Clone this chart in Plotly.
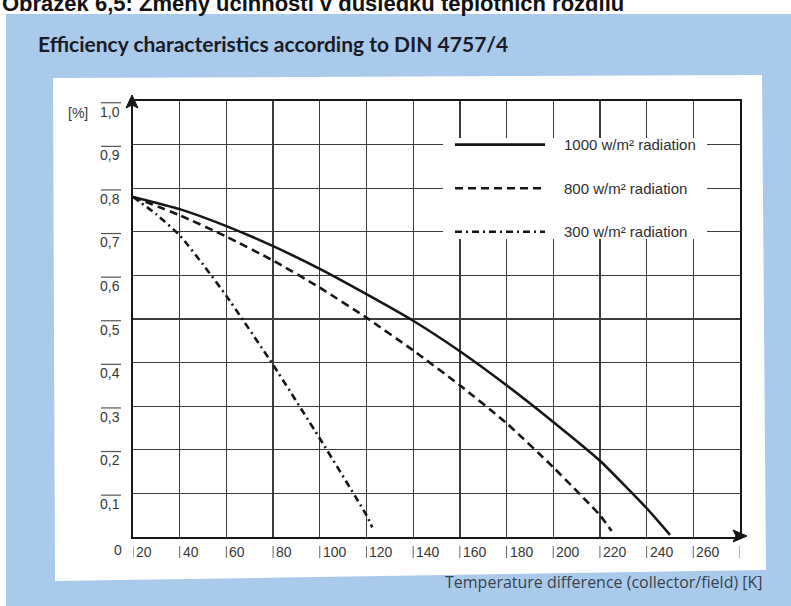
import plotly.graph_objects as go

# ---------------- data ----------------
x_1000 = [20, 40, 60, 80, 100, 120, 140, 160, 180, 200, 220, 240, 250]
y_1000 = [0.78, 0.752, 0.713, 0.667, 0.615, 0.557, 0.496, 0.426, 0.348, 0.264, 0.175, 0.066, 0.005]

x_800 = [20, 40, 60, 80, 100, 120, 140, 160, 180, 200, 220, 225]
y_800 = [0.78, 0.738, 0.689, 0.634, 0.572, 0.503, 0.428, 0.348, 0.261, 0.16, 0.05, 0.014]

x_300 = [20, 30, 40, 50, 60, 80, 100, 120, 122.5]
y_300 = [0.78, 0.74, 0.692, 0.625, 0.553, 0.395, 0.226, 0.05, 0.022]

series_names = ["1000 w/m² radiation", "800 w/m² radiation", "300 w/m² radiation"]
series_dash = ["solid", "8px,5px", "7px,4px,2px,4px"]

x_ticks = [20, 40, 60, 80, 100, 120, 140, 160, 180, 200, 220, 240, 260, 280]
x_tick_text = ["20", "40", "60", "80", "100", "120", "140", "160", "180", "200", "220", "240", "260", ""]
y_ticks = [1.0, 0.9, 0.8, 0.7, 0.6, 0.5, 0.4, 0.3, 0.2, 0.1, 0.0]
y_tick_text = ["1,0", "0,9", "0,8", "0,7", "0,6", "0,5", "0,4", "0,3", "0,2", "0,1", "0"]

chart_title = "Efficiency characteristics according to DIN 4757/4"
top_caption = "Obrázek 6,5: Změny účinnosti v důsledku teplotních rozdílů"
x_title = "Temperature difference (collector/field) [K]"
y_unit = "[%]"

# ---------------- layout geometry ----------------
W, H = 791, 606
L, R, T, B = 133, 51, 101, 69
PW, PH = W - L - R, H - T - B


def px(xp):
    return (xp - L) / PW


def py(yp):
    return (H - B - yp) / PH


INK = "#161616"
GRID = "#3c3c3c"
TXT = "#383838"
BLUE = "#a9caeb"
NUM_FONT = "Liberation Sans, Arial, sans-serif"

fig = go.Figure()
for xs, ys, name, dash in zip([x_1000, x_800, x_300], [y_1000, y_800, y_300],
                              series_names, series_dash):
    fig.add_trace(go.Scatter(
        x=xs, y=ys, mode="lines", name=name, showlegend=False,
        line=dict(color=INK, width=2.6, dash=dash, shape="spline", smoothing=0.5),
        hoverinfo="skip"))

shapes = []
# blue background
shapes.append(dict(type="rect", xref="paper", yref="paper", layer="below",
                   x0=px(6), x1=px(800), y0=py(14), y1=py(620),
                   fillcolor=BLUE, line=dict(width=0)))
# white (slightly skewed) panel
pts = [(53, 78), (762, 75), (766, 570), (55, 581)]
path = "M " + " L ".join(f"{px(a):.5f},{py(b):.5f}" for a, b in pts) + " Z"
shapes.append(dict(type="path", xref="paper", yref="paper", layer="below",
                   path=path, fillcolor="white", line=dict(width=0)))

# white legend box over gridlines
shapes.append(dict(type="rect", xref="paper", yref="paper", layer="above",
                   x0=px(443), x1=px(707), y0=py(239), y1=py(138),
                   fillcolor="white", line=dict(width=0)))
legend_rows = [0.9, 0.8, 0.7]
for yv, dash in zip(legend_rows, series_dash):
    shapes.append(dict(type="line", xref="paper", yref="y", layer="above",
                       x0=px(455), x1=px(545), y0=yv, y1=yv,
                       line=dict(color=INK, width=2.6, dash=dash)))

# y tick overlines
for yv, t in zip(y_ticks, y_tick_text):
    x0 = 106 if t == "0" else 101
    shapes.append(dict(type="line", xref="paper", yref="y", layer="above",
                       x0=px(x0), x1=px(121), y0=yv - 0.004, y1=yv - 0.004,
                       line=dict(color="#555", width=1.2)))

# x tick bars
for xv in x_ticks:
    shapes.append(dict(type="line", xref="x", yref="paper", layer="above",
                       x0=xv, x1=xv, y0=py(546), y1=py(558),
                       line=dict(color="#666", width=1)))

# axis arrows
shapes.append(dict(type="line", xref="paper", yref="paper", layer="above",
                   x0=px(740), x1=px(744), y0=py(537), y1=py(537),
                   line=dict(color=INK, width=1.8)))
shapes.append(dict(type="path", xref="paper", yref="paper", layer="above",
                   path=f"M {px(747)},{py(536)} L {px(733)},{py(530)} L {px(736)},{py(536)} L {px(733)},{py(542)} Z",
                   fillcolor=INK, line=dict(color=INK, width=1)))
shapes.append(dict(type="path", xref="paper", yref="paper", layer="above",
                   path=f"M {px(132)},{py(95)} L {px(126)},{py(108)} L {px(132)},{py(105)} L {px(138)},{py(108)} Z",
                   fillcolor=INK, line=dict(color=INK, width=1)))

annotations = []
# y tick labels
for yv, t in zip(y_ticks, y_tick_text):
    if t == "0":
        annotations.append(dict(xref="paper", yref="y", x=px(124), y=yv, text=t,
                                xanchor="right", yanchor="middle", yshift=-13,
                                showarrow=False, font=dict(family=NUM_FONT, size=14, color=TXT)))
    else:
        annotations.append(dict(xref="paper", yref="y", x=px(122), y=yv, text=t,
                                xanchor="right", yanchor="middle", yshift=-10.5,
                                showarrow=False, font=dict(family=NUM_FONT, size=14, color=TXT)))
annotations.append(dict(xref="paper", yref="y", x=px(90), y=1.0, text=y_unit,
                        xanchor="right", yanchor="middle", yshift=-11.5,
                        showarrow=False, font=dict(family=NUM_FONT, size=14, color=TXT)))
# x tick labels
for xv, t in zip(x_ticks, x_tick_text):
    if t:
        annotations.append(dict(xref="x", yref="paper", x=xv, y=py(552), text=t,
                                xanchor="left", yanchor="middle", xshift=1,
                                showarrow=False, font=dict(family=NUM_FONT, size=14, color=TXT)))
# legend texts
for yv, name in zip(legend_rows, series_names):
    annotations.append(dict(xref="paper", yref="y", x=px(562), y=yv, text=name,
                            xanchor="left", yanchor="middle",
                            showarrow=False, font=dict(family=NUM_FONT, size=15, color="#2e2e2e")))
# titles
annotations.append(dict(xref="paper", yref="paper", x=px(36), y=py(43), text=f"<b>{chart_title}</b>",
                        xanchor="left", yanchor="middle", showarrow=False,
                        font=dict(family="Lato, sans-serif", size=21, color="#1b1b26")))
annotations.append(dict(xref="paper", yref="paper", x=px(765), y=py(582), text=x_title,
                        xanchor="right", yanchor="middle", showarrow=False,
                        font=dict(family="Open Sans, sans-serif", size=16, color="#39424e")))
annotations.append(dict(xref="paper", yref="paper", x=px(0), y=py(18), text=f"<b>{top_caption}</b>",
                        xanchor="left", yanchor="bottom", showarrow=False,
                        font=dict(family=NUM_FONT, size=22, color="#111")))

fig.update_layout(
    width=W, height=H,
    margin=dict(l=L, r=R, t=T, b=B, pad=0),
    paper_bgcolor="white", plot_bgcolor="white",
    showlegend=False,
    shapes=shapes, annotations=annotations,
    xaxis=dict(range=[20, 280], tickvals=x_ticks, showticklabels=False, ticks="",
               showgrid=True, gridcolor=GRID, gridwidth=1.3,
               showline=True, linecolor=INK, linewidth=1.8, mirror=True, zeroline=False,
               fixedrange=True),
    yaxis=dict(range=[0, 1], tickvals=y_ticks, showticklabels=False, ticks="",
               showgrid=True, gridcolor=GRID, gridwidth=1.3,
               showline=True, linecolor=INK, linewidth=1.8, mirror=True, zeroline=False,
               fixedrange=True),
)

fig.write_html(
    "out.html",
    config={"displayModeBar": False, "staticPlot": True},
    post_script="document.body.style.margin='0';document.body.style.overflow='hidden';",
)
